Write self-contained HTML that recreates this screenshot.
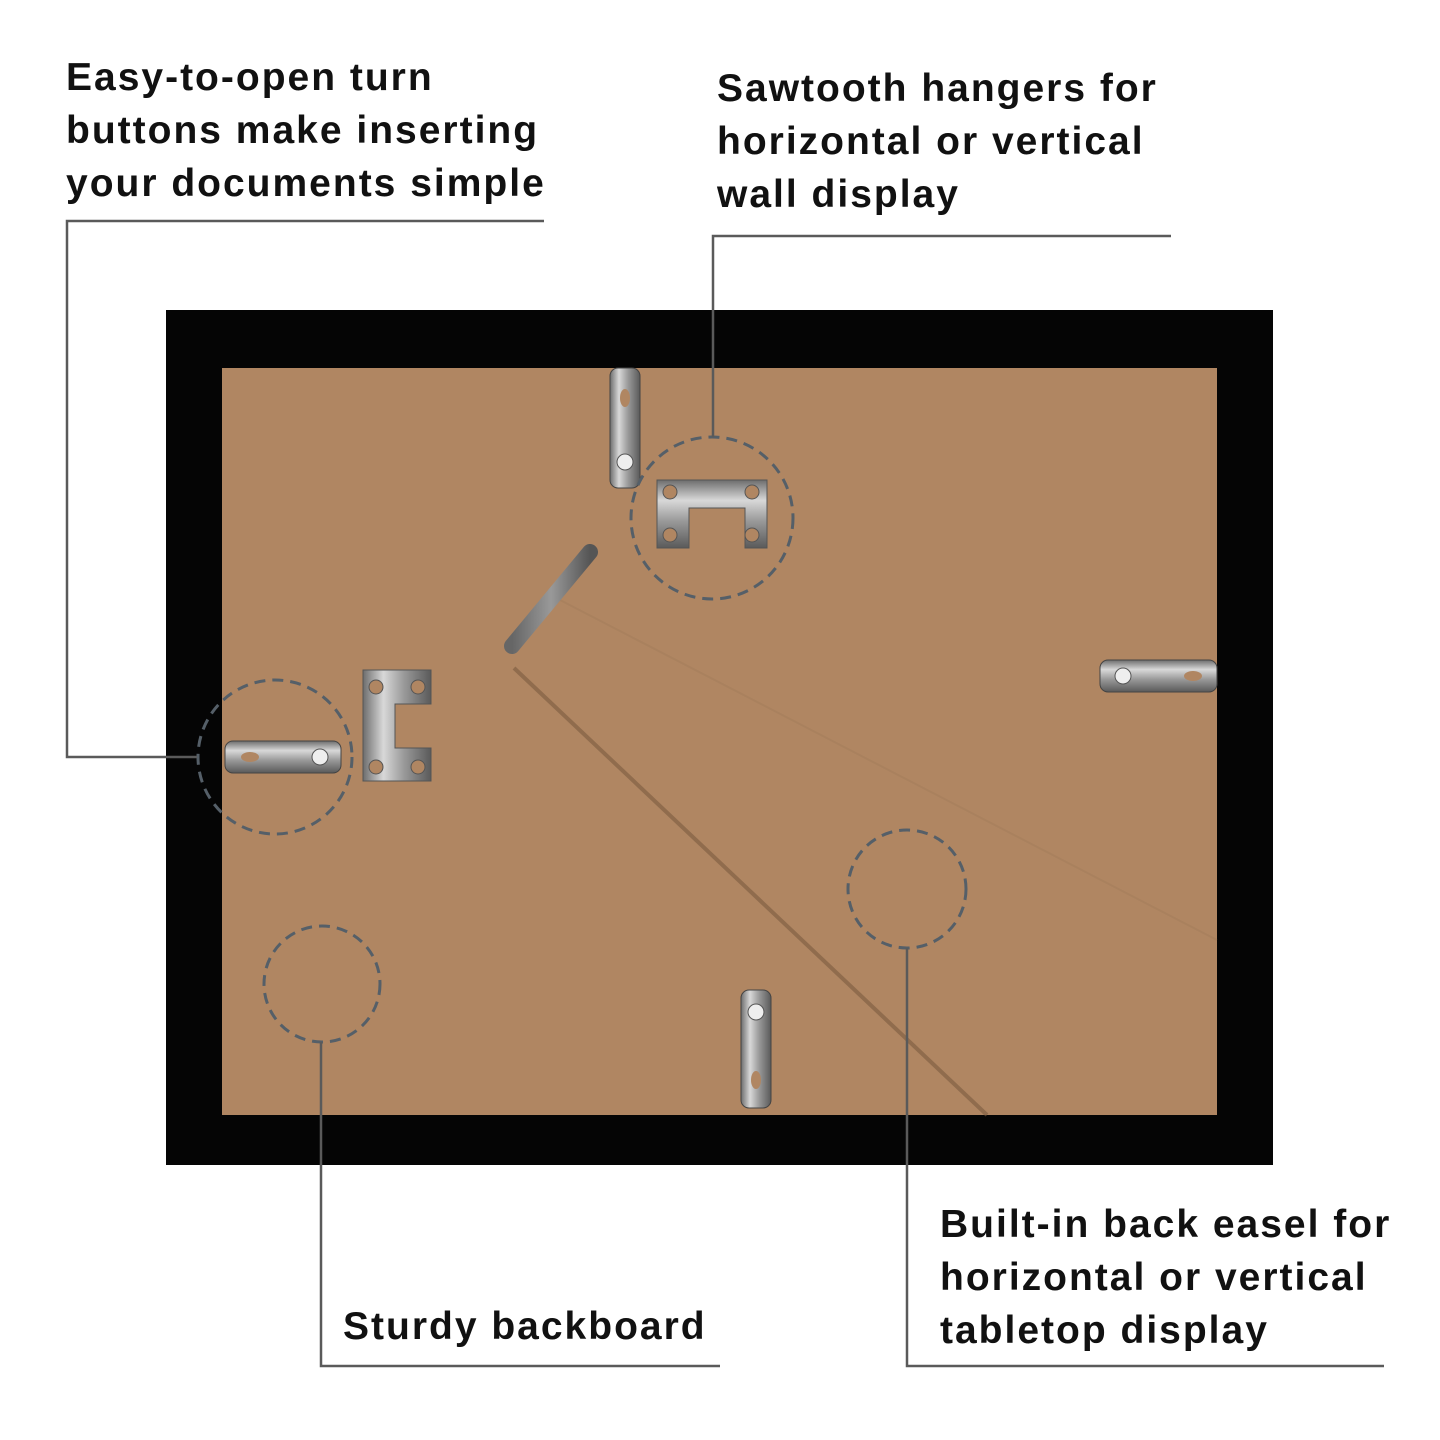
<!DOCTYPE html>
<html><head><meta charset="utf-8"><style>
html,body{margin:0;padding:0;background:#fff;}
.t{position:absolute;font-family:"Liberation Sans",sans-serif;font-weight:bold;font-size:39px;line-height:53px;color:#111;white-space:nowrap;letter-spacing:2px}
</style></head><body>
<div style="position:relative;width:1440px;height:1440px;overflow:hidden">
<svg width="1440" height="1440" style="position:absolute;left:0;top:0">
<defs>
<linearGradient id="sv" x1="0" y1="0" x2="1" y2="0">
<stop offset="0" stop-color="#6d6d6d"/><stop offset="0.3" stop-color="#d8d8d8"/><stop offset="0.6" stop-color="#9a9a9a"/><stop offset="1" stop-color="#5a5a5a"/></linearGradient>
<linearGradient id="sh" x1="0" y1="0" x2="0" y2="1">
<stop offset="0" stop-color="#6d6d6d"/><stop offset="0.3" stop-color="#d8d8d8"/><stop offset="0.6" stop-color="#9a9a9a"/><stop offset="1" stop-color="#5a5a5a"/></linearGradient>
<linearGradient id="dw" x1="0" y1="0" x2="1" y2="0"><stop offset="0" stop-color="#666"/><stop offset="0.5" stop-color="#999"/><stop offset="1" stop-color="#555"/></linearGradient>
</defs>
<rect x="166" y="310" width="1107" height="855" fill="#050505"/>
<rect x="222" y="368" width="995" height="747" fill="#b08662"/>
<line x1="514" y1="668" x2="987" y2="1115" stroke="#7c5c40" stroke-width="4" opacity="0.6"/>
<line x1="560" y1="600" x2="1217" y2="940" stroke="#9c7655" stroke-width="2" opacity="0.3"/>
<!-- dowel -->
<line x1="512" y1="646" x2="590" y2="552" stroke="url(#dw)" stroke-width="16" stroke-linecap="round"/>
<!-- turn buttons -->
<rect x="610" y="368" width="30" height="120" rx="8" fill="url(#sv)" stroke="#444"/>
<rect x="741" y="990" width="30" height="118" rx="8" fill="url(#sv)" stroke="#444"/>
<rect x="1100" y="660" width="117" height="32" rx="8" fill="url(#sh)" stroke="#444"/>
<rect x="225" y="741" width="116" height="32" rx="8" fill="url(#sh)" stroke="#444"/>
<circle cx="625" cy="462" r="8" fill="#eee" stroke="#555"/>
<circle cx="756" cy="1012" r="8" fill="#eee" stroke="#555"/>
<circle cx="1123" cy="676" r="8" fill="#eee" stroke="#555"/>
<circle cx="320" cy="757" r="8" fill="#eee" stroke="#555"/>
<ellipse cx="625" cy="398" rx="5" ry="9" fill="#b08662"/>
<ellipse cx="756" cy="1080" rx="5" ry="9" fill="#b08662"/>
<ellipse cx="1193" cy="676" rx="9" ry="5" fill="#b08662"/>
<ellipse cx="250" cy="757" rx="9" ry="5" fill="#b08662"/>
<!-- sawtooth hangers -->
<path d="M657,480 h110 v68 h-22 v-40 h-56 v40 h-32 z" fill="url(#sh)" stroke="#555"/>
<g fill="#b08662" stroke="#555"><circle cx="670" cy="492" r="7"/><circle cx="752" cy="492" r="7"/><circle cx="670" cy="535" r="7"/><circle cx="752" cy="535" r="7"/></g>
<path d="M363,670 h68 v34 h-36 v44 h36 v33 h-68 z" fill="url(#sv)" stroke="#555"/>
<g fill="#b08662" stroke="#555"><circle cx="376" cy="687" r="7"/><circle cx="418" cy="687" r="7"/><circle cx="376" cy="767" r="7"/><circle cx="418" cy="767" r="7"/></g>
<!-- dashed circles -->
<g fill="none" stroke="#555f68" stroke-width="3" stroke-dasharray="11,7">
<circle cx="712" cy="518" r="81"/>
<circle cx="275" cy="757" r="77"/>
<circle cx="322" cy="984" r="58"/>
<circle cx="907" cy="889" r="59"/>
</g>
<!-- leader lines -->
<g fill="none" stroke="#5a5a5a" stroke-width="2.5">
<polyline points="544,221 67,221 67,757 197,757"/>
<polyline points="1171,236 713,236 713,437"/>
<polyline points="321,1042 321,1366 720,1366"/>
<polyline points="907,948 907,1366 1384,1366"/>
</g>
</svg>
<div class="t" style="left:66px;top:51px">Easy-to-open turn<br>buttons make inserting<br>your documents simple</div>
<div class="t" style="left:717px;top:62px">Sawtooth hangers for<br>horizontal or vertical<br>wall display</div>
<div class="t" style="left:343px;top:1300px">Sturdy backboard</div>
<div class="t" style="left:940px;top:1198px">Built-in back easel for<br>horizontal or vertical<br>tabletop display</div>
</div>
</body></html>
